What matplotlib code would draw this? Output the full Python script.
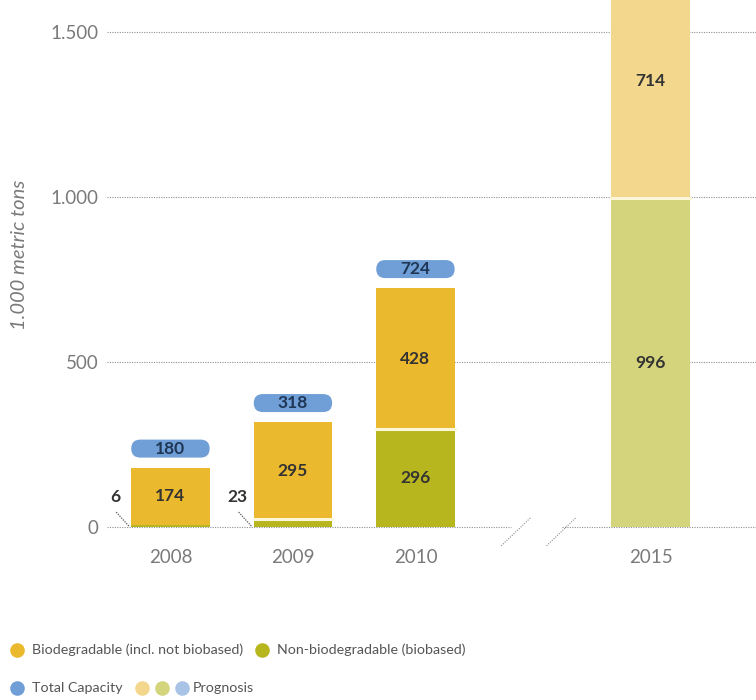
import matplotlib
matplotlib.use("Agg")
import matplotlib.pyplot as plt
from matplotlib.patches import FancyBboxPatch
from matplotlib.lines import Line2D

plt.rcParams["font.family"] = ["Lato", "DejaVu Sans"]

# bioplastics production capacity, 1.000 metric tons
years = ["2008", "2009", "2010", "2015"]
non_biodegradable = [6, 23, 296, 996]
biodegradable = [174, 295, 428, 714]
total_capacity = [180, 318, 724, 1710]
is_prognosis = [False, False, False, True]

x_pos = [0, 1, 2, 3.92]
bar_w = 0.64

bio_col = "#ebb92d"
nonbio_col = "#b7b61f"
total_col = "#6f9fd6"
bio_prog = "#f2d78c"
nonbio_prog = "#d3d47b"
total_prog = "#a9c3e6"
grey = "#7a7a7a"
dark = "#333333"

fig = plt.figure(figsize=(7.56, 7.0), dpi=100)
ax = fig.add_axes([107 / 756, 173 / 700, 1 - 107 / 756, 527 / 700])
ax.set_xlim(-0.518, 4.78)
ax.set_ylim(0, 1597)

# pixels per data unit, used for the rounded capacity labels
px_x = (756 - 107) / (4.78 + 0.518)
px_y = 527 / 1597

dots = (0, (1, 1.2))

# dotted grid, with a gap at the axis break
for v in [500, 1000, 1500]:
    ax.axhline(v, color="#909090", lw=0.8, ls=dots, zorder=0)
ax.plot([-0.518, 2.78], [0, 0], color="#909090", lw=0.8, ls=dots,
        zorder=0, clip_on=False)
ax.plot([3.2, 4.78], [0, 0], color="#909090", lw=0.8, ls=dots,
        zorder=0, clip_on=False)

# axis break marks
for bx in [2.7, 3.07]:
    ax.plot([bx, bx + 0.245], [-57, 30], color="#909090", lw=0.8,
            ls=dots, clip_on=False, zorder=0)

for i, yr in enumerate(years):
    x = x_pos[i]
    c_nb = nonbio_prog if is_prognosis[i] else nonbio_col
    c_b = bio_prog if is_prognosis[i] else bio_col
    ax.bar(x, non_biodegradable[i], width=bar_w, color=c_nb,
           linewidth=0, zorder=2)
    ax.bar(x, biodegradable[i], bottom=non_biodegradable[i], width=bar_w,
           color=c_b, linewidth=0, zorder=2)
    # thin white seam between the two segments
    if non_biodegradable[i] > 10:
        ax.plot([x - bar_w / 2, x + bar_w / 2],
                [non_biodegradable[i]] * 2, color="#fdf6d8", lw=2.2, zorder=3)

    # segment values
    mid_b = non_biodegradable[i] + biodegradable[i] / 2
    ax.text(x, mid_b, str(biodegradable[i]), ha="center", va="center",
            fontsize=12.5, fontweight="bold", color=dark, zorder=4)
    if non_biodegradable[i] > 100:
        ax.text(x, non_biodegradable[i] / 2, str(non_biodegradable[i]),
                ha="center", va="center", fontsize=12.5, fontweight="bold",
                color=dark, zorder=4)
    else:
        # small values get a dotted leader from the bar foot
        x0 = x - bar_w / 2
        ax.plot([x0 - 0.02, x0 - 0.13], [3, 48], color="#555555", lw=0.9,
                ls=(0, (1, 1)), zorder=4)
        ax.text(x0 - 0.13, 90, str(non_biodegradable[i]), ha="center",
                va="center", fontsize=12.5, fontweight="bold", color=dark)

    # total capacity pill
    if total_capacity[i] < 1500:
        pill_y = total_capacity[i] + 10 / px_y
        pill_h = 18 / px_y
        pill = FancyBboxPatch((x - bar_w / 2, pill_y), bar_w, pill_h,
                              boxstyle="round,pad=0,rounding_size=%f" % (9 / px_x),
                              mutation_aspect=px_x / px_y,
                              facecolor=total_prog if is_prognosis[i] else total_col,
                              edgecolor="none", zorder=3)
        ax.add_patch(pill)
        ax.text(x, pill_y + pill_h / 2, str(total_capacity[i]), ha="center",
                va="center", fontsize=12.5, fontweight="bold", color="#1f3655",
                zorder=4)

ax.set_xticks(x_pos)
ax.set_xticklabels(years, fontsize=13.5, color=grey)
ax.tick_params(axis="x", length=0, pad=16)
ax.set_yticks([0, 500, 1000, 1500])
ax.set_yticklabels(["0", "500", "1.000", "1.500"], fontsize=13.5, color=grey)
ax.tick_params(axis="y", length=0, pad=6)
for s in ax.spines.values():
    s.set_visible(False)

fig.text(20 / 756, 1 - 255 / 700, "1.000 metric tons", rotation=90,
         ha="center", va="center", fontsize=14.5, style="italic", color=grey)

# legend
def dot(px, py, col):
    fig.add_artist(Line2D([px / 756], [1 - py / 700], marker="o", ms=10.5,
                          color=col, mec="none", transform=fig.transFigure))

def label(px, py, txt):
    fig.text(px / 756, 1 - py / 700, txt, ha="left", va="center",
             fontsize=10.3, color="#555555")

dot(17, 650, bio_col)
label(32, 650, "Biodegradable (incl. not biobased)")
dot(262, 650, nonbio_col)
label(277, 650, "Non-biodegradable (biobased)")
dot(17, 688, total_col)
label(32, 688, "Total Capacity")
dot(142, 688, bio_prog)
dot(162, 688, nonbio_prog)
dot(182, 688, total_prog)
label(193, 688, "Prognosis")

fig.savefig("out.png", dpi=100)
